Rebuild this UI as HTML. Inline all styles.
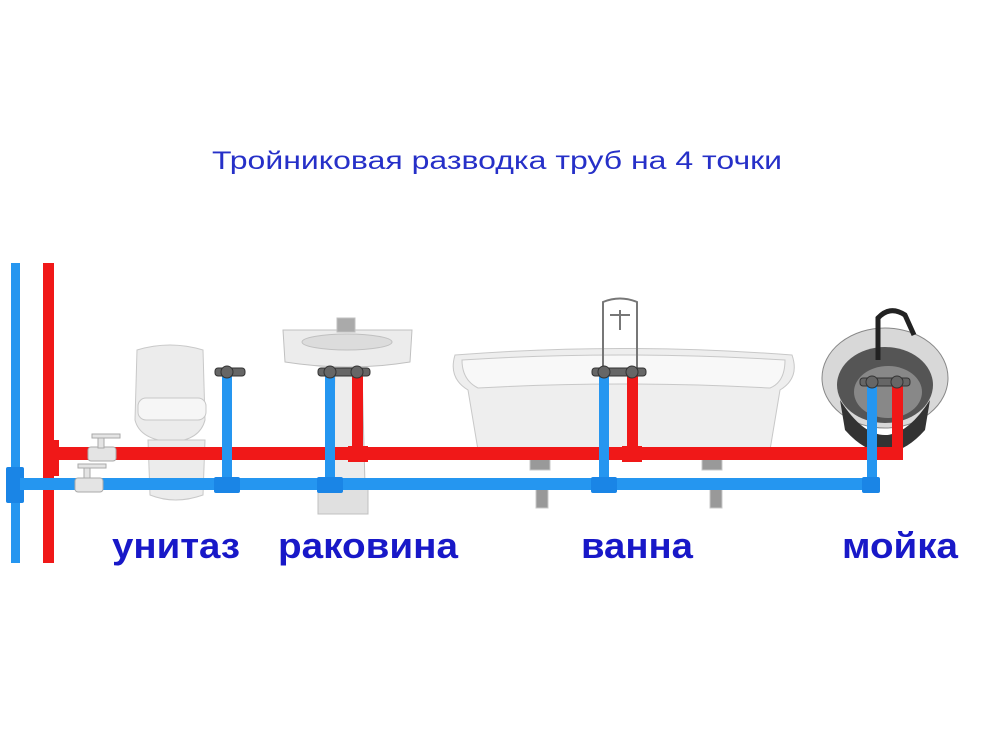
<!DOCTYPE html>
<html><head><meta charset="utf-8"><style>
html,body{margin:0;padding:0;background:#fff;}
svg{display:block}
</style></head><body>
<svg width="994" height="748" viewBox="0 0 994 748" xmlns="http://www.w3.org/2000/svg">
<rect width="994" height="748" fill="#fff"/>
<text x="212" y="169" font-family="Liberation Sans, sans-serif" font-size="25" fill="#2630c8" textLength="570" lengthAdjust="spacingAndGlyphs">Тройниковая  разводка труб на 4 точки</text>

<!-- toilet -->
<g fill="#ececec" stroke="#c8c8c8" stroke-width="1">
<path d="M137 350 Q170 340 203 350 L205 420 Q200 440 172 442 Q140 440 135 420 Z"/>
<path d="M148 440 L205 440 L203 495 Q175 505 150 495 Z"/>
<rect x="138" y="398" width="68" height="22" rx="8" fill="#f6f6f6"/>
</g>
<!-- washbasin -->
<g fill="#ececec" stroke="#c0c0c0" stroke-width="1">
<path d="M283 330 L412 330 L410 362 Q348 372 285 362 Z"/>
<ellipse cx="347" cy="342" rx="45" ry="8" fill="#dcdcdc"/>
<rect x="337" y="318" width="18" height="14" fill="#aaa"/>
<path d="M335 370 L362 370 L365 485 L332 485 Z"/>
<rect x="318" y="488" width="50" height="26" fill="#e0e0e0"/>
</g>
<!-- bathtub -->
<g stroke="#c8c8c8" stroke-width="1">
<path d="M455 355 Q620 342 792 355 Q800 378 780 390 L770 450 Q620 462 478 450 L468 390 Q448 378 455 355 Z" fill="#eeeeee"/>
<path d="M462 360 Q620 350 785 360 Q785 382 770 388 Q620 380 478 388 Q462 380 462 360 Z" fill="#f8f8f8"/>
<g fill="#999"><rect x="530" y="458" width="20" height="12"/><rect x="536" y="488" width="12" height="20"/><rect x="702" y="458" width="20" height="12"/><rect x="710" y="488" width="12" height="20"/></g>
</g>
<g stroke="#777" stroke-width="2" fill="none">
<path d="M603 375 L603 302 Q620 295 637 302 L637 375"/>
<path d="M610 315 L630 315 M620 310 L620 330"/>
</g>
<!-- kitchen sink -->
<ellipse cx="885" cy="378" rx="63" ry="50" fill="#d8d8d8" stroke="#888"/>
<path d="M840 400 Q885 470 930 400 L925 430 Q885 475 845 430 Z" fill="#333"/>
<ellipse cx="885" cy="385" rx="48" ry="38" fill="#555"/>
<ellipse cx="888" cy="392" rx="34" ry="26" fill="#888"/>
<path d="M878 360 L878 318 Q890 305 905 315 L914 335" stroke="#222" stroke-width="5" fill="none"/>

<!-- red pipes -->
<g fill="#f01818">
<rect x="43" y="263" width="11" height="300"/>
<rect x="43" y="440" width="16" height="36"/>
<rect x="54" y="447" width="848" height="13"/>
<rect x="352" y="374" width="11" height="80"/>
<rect x="348" y="446" width="20" height="16"/>
<rect x="627" y="374" width="11" height="80"/>
<rect x="622" y="446" width="20" height="16"/>
<rect x="892" y="386" width="11" height="74"/>
</g>
<!-- blue pipes -->
<g fill="#2596f0">
<rect x="11" y="263" width="9" height="300"/>
<rect x="6" y="467" width="18" height="36" rx="2" fill="#1a85e6"/>
<rect x="20" y="478" width="858" height="12"/>
<rect x="222" y="374" width="10" height="112"/>
<rect x="214" y="477" width="26" height="16" rx="2" fill="#1a85e6"/>
<rect x="325" y="374" width="10" height="112"/>
<rect x="317" y="477" width="26" height="16" rx="2" fill="#1a85e6"/>
<rect x="599" y="374" width="10" height="112"/>
<rect x="591" y="477" width="26" height="16" rx="2" fill="#1a85e6"/>
<rect x="867" y="386" width="10" height="104"/>
<rect x="862" y="477" width="18" height="16" rx="2" fill="#1a85e6"/>
</g>
<!-- valves -->
<g fill="#e4e4e4" stroke="#aaa">
<rect x="88" y="447" width="28" height="14" rx="3"/>
<rect x="98" y="438" width="6" height="10"/><rect x="92" y="434" width="28" height="4"/>
<rect x="75" y="478" width="28" height="14" rx="3"/>
<rect x="84" y="467" width="6" height="11"/><rect x="78" y="464" width="28" height="4"/>
</g>
<!-- connectors -->
<g fill="#666" stroke="#333">
<rect x="215" y="368" width="30" height="8" rx="3"/><circle cx="227" cy="372" r="6"/>
<rect x="318" y="368" width="52" height="8" rx="3"/><circle cx="330" cy="372" r="6"/><circle cx="357" cy="372" r="6"/>
<rect x="592" y="368" width="54" height="8" rx="3"/><circle cx="604" cy="372" r="6"/><circle cx="632" cy="372" r="6"/>
<rect x="860" y="378" width="50" height="8" rx="3"/><circle cx="872" cy="382" r="6"/><circle cx="897" cy="382" r="6"/>
</g>

<g font-family="Liberation Sans, sans-serif" font-weight="bold" font-size="36" fill="#1818c8">
<text x="112" y="558" textLength="128" lengthAdjust="spacingAndGlyphs">унитаз</text>
<text x="278" y="558" textLength="180" lengthAdjust="spacingAndGlyphs">раковина</text>
<text x="581" y="558" textLength="112" lengthAdjust="spacingAndGlyphs">ванна</text>
<text x="842" y="558" textLength="116" lengthAdjust="spacingAndGlyphs">мойка</text>
</g>
</svg>
</body></html>
